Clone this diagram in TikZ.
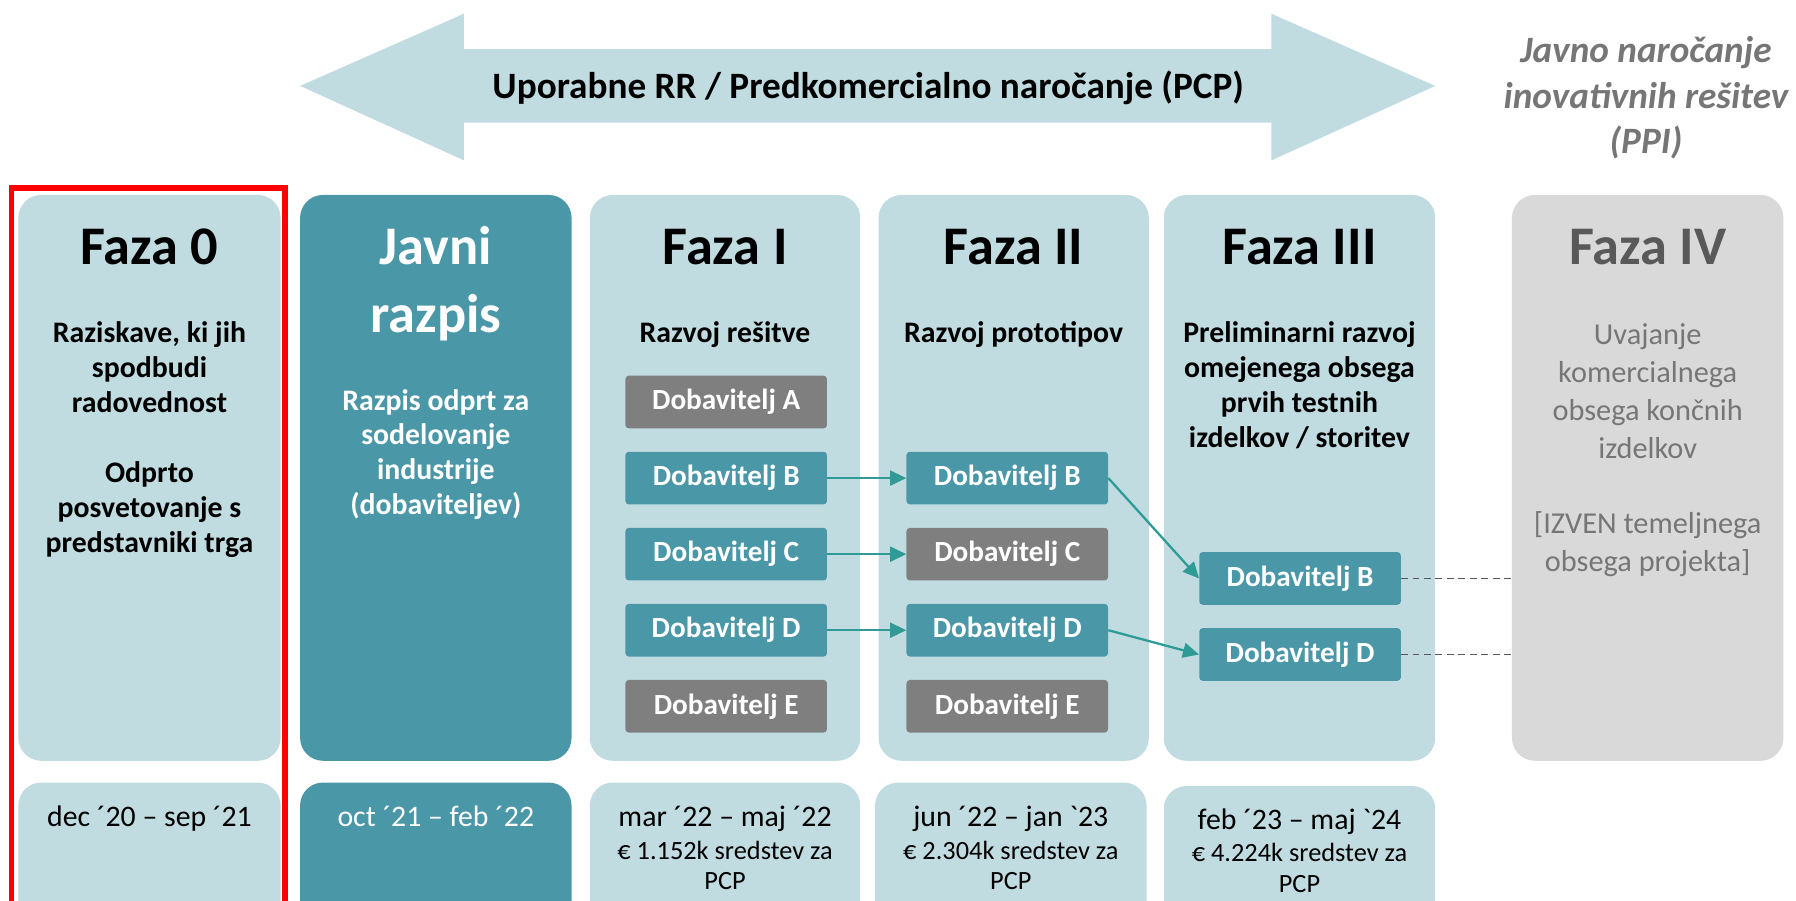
\documentclass[tikz,border=0pt]{standalone}
\usepackage{fontspec}
\setmainfont{Carlito}[Ligatures=TeXOff]
\usetikzlibrary{arrows.meta,positioning}

\definecolor{paleblue}{RGB}{193,220,225}
\definecolor{tealbox}{RGB}{74,151,168}
\definecolor{greybox}{RGB}{127,127,127}
\definecolor{lightgrey}{RGB}{217,217,217}
\definecolor{darkgrey}{RGB}{89,89,89}
\definecolor{midgrey}{RGB}{118,118,118}
\definecolor{arrowteal}{RGB}{46,155,150}

\tikzstyle{phase} = [rectangle, rounded corners=20pt, minimum width=236pt, minimum height=494pt, anchor=north, inner sep=0pt]
\tikzstyle{datebox} = [rectangle, rounded corners=20pt, minimum width=236pt, minimum height=150pt, anchor=north, inner sep=0pt]
\tikzstyle{title} = [anchor=base, align=center, inner sep=0pt, font=\bfseries\fontsize{47.5}{59}\selectfont]
\tikzstyle{subtitle} = [anchor=base, align=center, inner sep=0pt, font=\bfseries\fontsize{26}{30.5}\selectfont]
\tikzstyle{supplier} = [rectangle, rounded corners=3pt, minimum width=176pt, minimum height=46pt, inner sep=0pt, text=white, font=\bfseries\fontsize{25.5}{28}\selectfont]
\tikzstyle{active} = [supplier, fill=tealbox]
\tikzstyle{dropped} = [supplier, fill=greybox]
\tikzstyle{dateline} = [anchor=base, align=center, inner sep=0pt, font=\fontsize{26}{29}\selectfont]
\tikzstyle{costline} = [anchor=base, align=center, inner sep=0pt, font=\fontsize{23}{27}\selectfont]
\tikzstyle{arrow} = [line width=2pt, draw=arrowteal, -{Triangle[length=14pt,width=13pt]}]
\tikzstyle{outside} = [line width=1.3pt, draw=darkgrey, dash pattern=on 6pt off 4pt]

\begin{document}
\begin{tikzpicture}[x=1pt, y=-1pt]
    \useasboundingbox (0,0) rectangle (1568,786);
    \clip (0,0) rectangle (1568,786);

    % top double arrow
    \fill [paleblue] (262,75) -- (405,12) -- (405,43) -- (1110,43) -- (1110,12) -- (1253,75)
        -- (1110,140) -- (1110,107) -- (405,107) -- (405,140) -- cycle;
    \node (pcp) [anchor=base, inner sep=0pt, font=\bfseries\fontsize{32.5}{36}\selectfont] at (758,86)
        {Uporabne RR / Predkomercialno naročanje (PCP)};
    \node (ppi) [anchor=base, align=center, inner sep=0pt, text=midgrey, font=\bfseries\itshape\fontsize{32.5}{39.5}\selectfont] at (1437,134)
        {Javno naročanje\\inovativnih rešitev\\(PPI)};

    % phase columns
    \node (faza0) [phase, fill=paleblue, minimum width=229pt] at (130.5,170) {};
    \node (javni) [phase, fill=tealbox, minimum width=237pt] at (380.5,170) {};
    \node (faza1) [phase, fill=paleblue] at (633,170) {};
    \node (faza2) [phase, fill=paleblue] at (885,170) {};
    \node (faza3) [phase, fill=paleblue, minimum width=237pt] at (1134.5,170) {};
    \node (faza4) [phase, fill=lightgrey, minimum width=237pt] at (1438.5,170) {};

    \node (date0) [datebox, fill=paleblue, minimum width=229pt] at (130.5,683) {};
    \node (datej) [datebox, fill=tealbox, minimum width=237pt] at (380.5,683) {};
    \node (date1) [datebox, fill=paleblue] at (633,683) {};
    \node (date2) [datebox, fill=paleblue, minimum width=237pt] at (882.5,683) {};
    \node (date3) [datebox, fill=paleblue, minimum width=237pt] at (1134.5,686) {};

    \draw [red, line width=5pt] (10,164) rectangle (249,830);

    % titles (base = last line)
    \node (title0) [title] at (130.5,231) {Faza 0};
    \node (titlej) [title, text=white] at (380.5,290) {Javni\\razpis};
    \node (title1) [title] at (633,231) {Faza I};
    \node (title2) [title] at (885,231) {Faza II};
    \node (title3) [title] at (1134.5,231) {Faza III};
    \node (title4) [title, text=darkgrey] at (1438.5,231) {Faza IV};

    \node (desc0) [subtitle] at (130.5,482) {Raziskave, ki jih\\spodbudi\\radovednost\\[30.5pt]Odprto\\posvetovanje s\\predstavniki trga};
    \node (descj) [subtitle, text=white] at (380.5,449.5) {Razpis odprt za\\sodelovanje\\industrije\\(dobaviteljev)};
    \node (desc1) [subtitle] at (633,299) {Razvoj rešitve};
    \node (desc2) [subtitle] at (885,299) {Razvoj prototipov};
    \node (desc3) [subtitle] at (1134.5,390.5) {Preliminarni razvoj\\omejenega obsega\\prvih testnih\\izdelkov / storitev};
    \node (desc4) [anchor=base, align=center, inner sep=0pt, text=midgrey, font=\fontsize{26.5}{33}\selectfont] at (1438.5,499)
        {Uvajanje\\komercialnega\\obsega končnih\\izdelkov\\[33pt][IZVEN temeljnega\\obsega projekta]};

    % suppliers
    \node (supA1) [dropped] at (634,351) {Dobavitelj A};
    \node (supB1) [active, below=20pt of supA1] {Dobavitelj B};
    \node (supC1) [active, below=20pt of supB1] {Dobavitelj C};
    \node (supD1) [active, below=20pt of supC1] {Dobavitelj D};
    \node (supE1) [dropped, below=20pt of supD1] {Dobavitelj E};

    \node (supB2) [active, right=69pt of supB1] {Dobavitelj B};
    \node (supC2) [dropped, below=20pt of supB2] {Dobavitelj C};
    \node (supD2) [active, below=20pt of supC2] {Dobavitelj D};
    \node (supE2) [dropped, below=20pt of supD2] {Dobavitelj E};

    \node (supB3) [active] at (1135,505) {Dobavitelj B};
    \node (supD3) [active, below=20pt of supB3] {Dobavitelj D};

    \draw [arrow] (supB1) -- (supB2);
    \draw [arrow] (supC1) -- (supC2);
    \draw [arrow] (supD1) -- (supD2);
    \draw [arrow] (supB2.east) -- (supB3.west);
    \draw [arrow] (supD2.east) -- (supD3.west);

    \draw [outside] (supB3.east) -- (supB3 -| faza4.west);
    \draw [outside] (supD3.east) -- (supD3 -| faza4.west);

    % dates
    \node (when0) [dateline] at (130.5,722) {dec ´20 – sep ´21};
    \node (whenj) [dateline, text=white] at (380.5,722) {oct ´21 – feb ´22};
    \node (when1) [dateline] at (633,722) {mar ´22 – maj ´22};
    \node (when2) [dateline] at (882.5,722) {jun ´22 – jan `23};
    \node (when3) [dateline] at (1134.5,724) {feb ´23 – maj `24};

    \node (cost1) [costline] at (633,777) {€ 1.152k sredstev za\\PCP};
    \node (cost2) [costline] at (882.5,777) {€ 2.304k sredstev za\\PCP};
    \node (cost3) [costline] at (1134.5,779) {€ 4.224k sredstev za\\PCP};
\end{tikzpicture}
\end{document}
